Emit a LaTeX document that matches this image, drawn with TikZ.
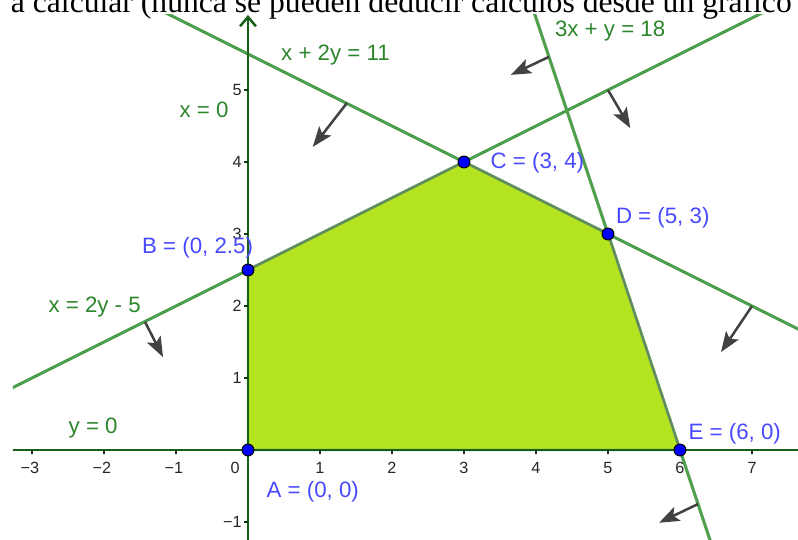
\documentclass[tikz,border=0pt]{standalone}
\usepackage{fontspec}
\setmainfont{Liberation Serif}
\setsansfont{Liberation Sans}
\usetikzlibrary{arrows.meta,positioning,calc}

\definecolor{lineGreen}{RGB}{78,160,78}
\definecolor{axisGreen}{RGB}{24,96,24}
\definecolor{labelGreen}{RGB}{44,134,44}
\definecolor{regionFill}{RGB}{180,228,32}
\definecolor{regionEdge}{RGB}{96,140,96}
\definecolor{pointBlue}{RGB}{0,0,255}
\definecolor{labelBlue}{RGB}{72,72,255}
\definecolor{arrowGray}{RGB}{66,66,66}

\begin{document}
\begin{tikzpicture}[
    x=1cm, y=1cm,
    constraint/.style={lineGreen, line width=1.2pt},
    axis/.style={axisGreen, line width=1pt},
    normal/.style={arrowGray, line width=1pt, -{Stealth[length=2.8mm,width=2.1mm,inset=0.6mm]}},
    vertex/.style={circle, fill=pointBlue, draw=black, line width=0.4pt, inner sep=0pt, minimum size=1.65mm},
    vlabel/.style={text=labelBlue, inner sep=0pt, font=\sffamily\fontsize{8.8}{10}\selectfont},
    clabel/.style={text=labelGreen, inner sep=0pt, font=\sffamily\fontsize{8.8}{10}\selectfont},
    ticklabel/.style={text=black!85, inner sep=0pt, font=\sffamily\fontsize{6.4}{7}\selectfont},
]

\useasboundingbox (-3.444,-1.236) rectangle (7.639,6.25);

%----------------------------------
% Graph area
%----------------------------------

\begin{scope}
\clip (-3.264,-1.236) rectangle (7.639,6.042);

\coordinate (A) at (0,0);
\coordinate (B) at (0,2.5);
\coordinate (C) at (3,4);
\coordinate (D) at (5,3);
\coordinate (E) at (6,0);

% constraint lines
\coordinate (l1a) at (-3.5,7.25);
\coordinate (l1b) at (8,1.5);
\coordinate (l2a) at (-3.5,0.75);
\coordinate (l2b) at (8,6.5);
\coordinate (l3a) at (3.8,6.6);
\coordinate (l3b) at (6.5,-1.5);

\draw[constraint] (l1a) -- (l1b);
\draw[constraint] (l2a) -- (l2b);
\draw[constraint] (l3a) -- (l3b);

% feasible region
\filldraw[fill=regionFill, draw=regionEdge, line width=0.9pt]
    (A) -- (B) -- (C) -- (D) -- (E) -- cycle;

% axes
\coordinate (xLeft) at (-3.4,0);
\coordinate (xRight) at (7.8,0);
\coordinate (yBot) at (0,-1.4);
\coordinate (yTop) at (0,6.042);

\draw[axis] (xLeft) -- (xRight);
\draw[axis, -{Straight Barb[length=1.3mm,width=2.2mm]}] (yBot) -- (yTop);

\foreach \k in {-3,-2,-1,1,2,3,4,5,6,7}
    \draw[axisGreen!60!black, line width=0.5pt] (\k,0) -- (\k,-0.055);
\foreach \k in {-1,1,2,3,4,5}
    \draw[axisGreen!60!black, line width=0.5pt] (0,\k) -- (-0.055,\k);

\foreach \k in {-3,-2,-1}
    \node[ticklabel] (tx\k) at (\k-0.03,-0.25) {−\the\numexpr-\k\relax};
\foreach \k in {1,...,7}
    \node[ticklabel] (tx\k) at (\k,-0.25) {\k};
\node[ticklabel] (tx0) at (-0.18,-0.25) {0};
\foreach \k in {1,...,5}
    \node[ticklabel, anchor=east] (ty\k) at (-0.08,\k) {\k};
\node[ticklabel, anchor=east] (tym) at (-0.08,-1) {−1};

% direction arrows
\coordinate (n1s) at (1.375,4.82);
\coordinate (n1e) at (0.90,4.21);
\coordinate (n2s) at (7.0,2.0);
\coordinate (n2e) at (6.57,1.36);
\coordinate (n3s) at (-1.43,1.78);
\coordinate (n3e) at (-1.18,1.29);
\coordinate (n4s) at (5.0,5.0);
\coordinate (n4e) at (5.31,4.47);
\coordinate (n5s) at (4.18,5.46);
\coordinate (n5e) at (3.65,5.21);
\coordinate (n6s) at (6.25,-0.75);
\coordinate (n6e) at (5.71,-1.01);

\draw[normal] (n1s) -- (n1e);
\draw[normal] (n2s) -- (n2e);
\draw[normal] (n3s) -- (n3e);
\draw[normal] (n4s) -- (n4e);
\draw[normal] (n5s) -- (n5e);
\draw[normal] (n6s) -- (n6e);

% vertices
\node[vertex] (pA) at (A) {};
\node[vertex] (pB) at (B) {};
\node[vertex] (pC) at (C) {};
\node[vertex] (pD) at (D) {};
\node[vertex] (pE) at (E) {};

% labels
\node[vlabel] (lA) at (0.90,-0.58) {A = (0, 0)};
\node[vlabel] (lB) at (-0.70,2.81) {B = (0, 2.5)};
\node[vlabel] (lC) at (4.02,3.99) {C = (3, 4)};
\node[vlabel] (lD) at (5.76,3.23) {D = (5, 3)};
\node[vlabel] (lE) at (6.76,0.22) {E = (6, 0)};

\node[clabel] (eq1) at (1.215,5.49) {x + 2y = 11};
\node[clabel] (eq2) at (5.03,5.82) {3x + y = 18};
\node[clabel] (eq3) at (-0.61,4.72) {x = 0};
\node[clabel] (eq4) at (-2.13,1.98) {x = 2y - 5};
\node[clabel] (eq5) at (-2.15,0.31) {y = 0};
\end{scope}

%----------------------------------
% Cut-off text above
%----------------------------------

\node[anchor=base, inner sep=0pt, font=\fontsize{12.5}{15}\selectfont] (topText) at (2.13,6.07)
    {a calcular (nunca se pueden deducir cálculos desde un gráfico};

\end{tikzpicture}
\end{document}
